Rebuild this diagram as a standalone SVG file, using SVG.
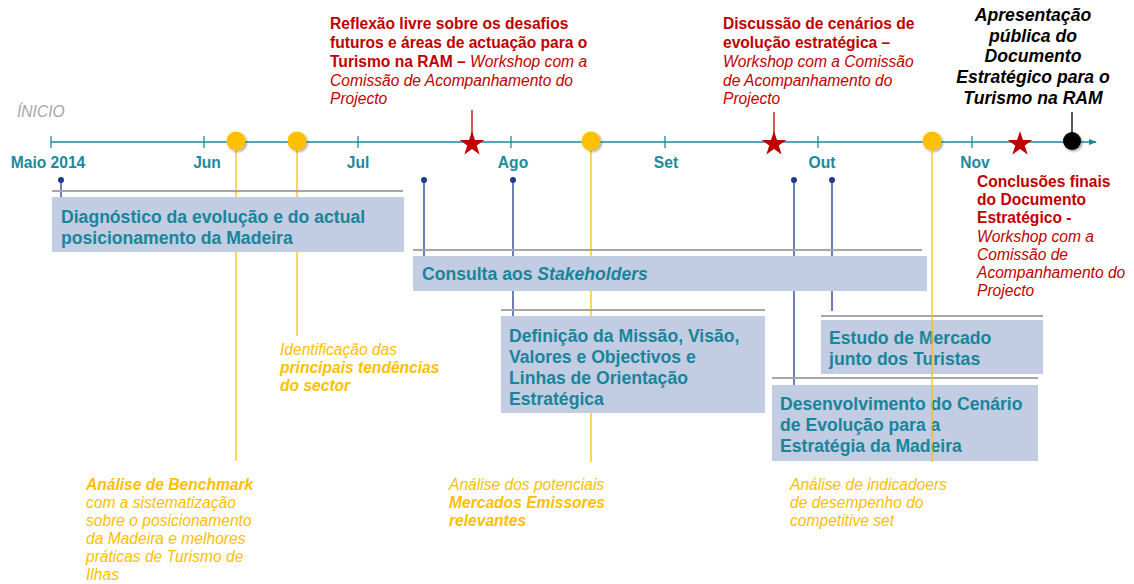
<svg xmlns="http://www.w3.org/2000/svg" width="1134" height="584" viewBox="0 0 1134 584">
<defs>
<style>
text{font-family:"Liberation Sans",Arial,sans-serif;}
.month{font-size:15.6px;font-weight:bold;fill:#1A8A9C;text-anchor:middle;}
.box{fill:#C2CCE3;}
.bar{stroke:#A6A6A6;stroke-width:2;}
.bt{font-size:17.6px;font-weight:bold;fill:#17859A;}
.blue{stroke:#1F3A8F;stroke-width:1.3;}
.bdot{fill:#1F3A8F;}
.yl{stroke:#FFC000;stroke-width:1.3;}
.yt{font-size:15.6px;font-style:italic;fill:#FFC000;}
.b{font-weight:bold;}
.rt{font-size:15.6px;fill:#C00000;}
.i{font-style:italic;font-weight:normal;}
.rl{stroke:#C00000;stroke-width:1.3;}
</style>
<filter id="sh" x="-50%" y="-50%" width="200%" height="200%">
<feDropShadow dx="1.5" dy="1.5" stdDeviation="1.2" flood-color="#000" flood-opacity="0.35"/>
</filter>
<marker id="arr" markerWidth="8" markerHeight="8" refX="7" refY="4" orient="auto" markerUnits="userSpaceOnUse">
<path d="M0,1 L8,4 L0,7 Z" fill="#1A8A9C"/>
</marker>
<polygon id="star" points="0,-13 3,-4 12.4,-4 4.8,1.6 7.6,10.5 0,5 -7.6,10.5 -4.8,1.6 -12.4,-4 -3,-4" fill="#C00000"/>
</defs>

<text x="17" y="117" font-size="15.6" font-style="italic" fill="#A6A6A6">ÍNICIO</text>

<g id="connectors">
<line class="yl" x1="236" y1="141" x2="236" y2="461"/>
<line class="yl" x1="297" y1="141" x2="297" y2="336"/>
<line class="yl" x1="591" y1="141" x2="591" y2="462"/>
<line class="blue" x1="61" y1="180" x2="61" y2="197"/>
<line class="blue" x1="424" y1="180" x2="424" y2="256"/>
<line class="blue" x1="513" y1="180" x2="513" y2="316"/>
<line class="blue" x1="794" y1="180" x2="794" y2="385"/>
<line class="blue" x1="832" y1="180" x2="832" y2="311"/>
<line class="rl" x1="472" y1="110" x2="472" y2="135"/>
<line class="rl" x1="774" y1="112" x2="774" y2="135"/>
<line stroke="#000" stroke-width="1.3" x1="1072" y1="112" x2="1072" y2="135"/>
</g>

<g id="axis">
<line x1="51" y1="142" x2="1096" y2="142" stroke="#1A8A9C" stroke-width="1.5" marker-end="url(#arr)"/>
<g stroke="#1A8A9C" stroke-width="1.3">
<line x1="51" y1="136" x2="51" y2="148"/>
<line x1="204" y1="136" x2="204" y2="148"/>
<line x1="358" y1="136" x2="358" y2="148"/>
<line x1="511" y1="136" x2="511" y2="148"/>
<line x1="665" y1="136" x2="665" y2="148"/>
<line x1="818" y1="136" x2="818" y2="148"/>
<line x1="972" y1="136" x2="972" y2="148"/>
</g>
<text class="month" x="48" y="168">Maio 2014</text>
<text class="month" x="207" y="168">Jun</text>
<text class="month" x="358" y="168">Jul</text>
<text class="month" x="513" y="168">Ago</text>
<text class="month" x="666" y="168">Set</text>
<text class="month" x="822" y="168">Out</text>
<text class="month" x="975" y="168">Nov</text>
</g>

<g id="milestones">
<circle cx="236" cy="141" r="9.5" fill="#FFC000" filter="url(#sh)"/>
<circle cx="297" cy="141" r="9.5" fill="#FFC000" filter="url(#sh)"/>
<circle cx="591" cy="141" r="9.5" fill="#FFC000" filter="url(#sh)"/>
<circle cx="932" cy="141" r="9.5" fill="#FFC000" filter="url(#sh)"/>
<use href="#star" x="472" y="144"/>
<use href="#star" x="774" y="144"/>
<use href="#star" x="1020" y="144"/>
<circle cx="1072" cy="141" r="9" fill="#000" filter="url(#sh)"/>
<circle class="bdot" cx="61" cy="180" r="3"/>
<circle class="bdot" cx="424" cy="180" r="3"/>
<circle class="bdot" cx="513" cy="180" r="3"/>
<circle class="bdot" cx="794" cy="180" r="3"/>
<circle class="bdot" cx="832" cy="180" r="3"/>
</g>

<g id="diagnostico">
<line class="bar" x1="52" y1="191" x2="403" y2="191"/>
<rect class="box" x="52" y="197" width="352" height="55"/>
<text class="bt" x="61" y="223">Diagnóstico da evolução e do actual</text>
<text class="bt" x="61" y="244">posicionamento da Madeira</text>
</g>

<g id="consulta">
<line class="bar" x1="413" y1="250" x2="922" y2="250"/>
<rect class="box" x="413" y="256" width="514" height="35"/>
<text class="bt" x="422" y="280">Consulta aos <tspan font-style="italic">Stakeholders</tspan></text>
</g>

<g id="definicao">
<line class="bar" x1="501" y1="310" x2="765" y2="310"/>
<rect class="box" x="501" y="316" width="264" height="97"/>
<text class="bt" x="509" y="342">Definição da Missão, Visão,</text>
<text class="bt" x="509" y="363">Valores e Objectivos e</text>
<text class="bt" x="509" y="384">Linhas de Orientação</text>
<text class="bt" x="509" y="405">Estratégica</text>
</g>

<g id="estudo">
<line class="bar" x1="821" y1="316" x2="1043" y2="316"/>
<rect class="box" x="821" y="320" width="222" height="54"/>
<text class="bt" x="829" y="344">Estudo de Mercado</text>
<text class="bt" x="829" y="365">junto dos Turistas</text>
</g>

<g id="desenvolvimento">
<line class="bar" x1="772" y1="378" x2="1038" y2="378"/>
<rect class="box" x="772" y="385" width="266" height="76"/>
<text class="bt" x="780" y="410">Desenvolvimento do Cenário</text>
<text class="bt" x="780" y="431">de Evolução para a</text>
<text class="bt" x="780" y="452">Estratégia da Madeira</text>
</g>

<line class="yl" x1="932" y1="141" x2="932" y2="462"/>

<g id="identificacao">
<text class="yt" x="280" y="355">Identificação das</text>
<text class="yt b" x="280" y="373">principais tendências</text>
<text class="yt b" x="280" y="391">do sector</text>
</g>

<g id="benchmark">
<text class="yt b" x="86" y="490">Análise de Benchmark</text>
<text class="yt" x="86" y="508">com a sistematização</text>
<text class="yt" x="86" y="526">sobre o posicionamento</text>
<text class="yt" x="86" y="544">da Madeira e melhores</text>
<text class="yt" x="86" y="562">práticas de Turismo de</text>
<text class="yt" x="86" y="580">Ilhas</text>
</g>

<g id="mercados">
<text class="yt" x="449" y="490">Análise dos potenciais</text>
<text class="yt b" x="449" y="508">Mercados Emissores</text>
<text class="yt b" x="449" y="526">relevantes</text>
</g>

<g id="indicadores">
<text class="yt" x="790" y="490">Análise de indicadoers</text>
<text class="yt" x="790" y="508">de desempenho do</text>
<text class="yt" x="790" y="526">competitive set</text>
</g>

<g id="reflexao">
<text class="rt b" x="330" y="29">Reflexão livre sobre os desafios</text>
<text class="rt b" x="330" y="48">futuros e áreas de actuação para o</text>
<text class="rt b" x="330" y="67">Turismo na RAM – <tspan class="i">Workshop com a</tspan></text>
<text class="rt i" x="330" y="86">Comissão de Acompanhamento do</text>
<text class="rt i" x="330" y="104">Projecto</text>
</g>

<g id="discussao">
<text class="rt b" x="723" y="29">Discussão de cenários de</text>
<text class="rt b" x="723" y="48">evolução estratégica –</text>
<text class="rt i" x="723" y="67">Workshop com a Comissão</text>
<text class="rt i" x="723" y="86">de Acompanhamento do</text>
<text class="rt i" x="723" y="104">Projecto</text>
</g>

<g id="apresentacao" font-size="17.6" font-weight="bold" font-style="italic" text-anchor="middle" fill="#000">
<text x="1033" y="21">Apresentação</text>
<text x="1033" y="42">pública do</text>
<text x="1033" y="62">Documento</text>
<text x="1033" y="83">Estratégico para o</text>
<text x="1033" y="104">Turismo na RAM</text>
</g>

<g id="conclusoes">
<text class="rt b" x="977" y="187">Conclusões finais</text>
<text class="rt b" x="977" y="205">do Documento</text>
<text class="rt b" x="977" y="223">Estratégico -</text>
<text class="rt i" x="977" y="242">Workshop com a</text>
<text class="rt i" x="977" y="260">Comissão de</text>
<text class="rt i" x="977" y="278">Acompanhamento do</text>
<text class="rt i" x="977" y="296">Projecto</text>
</g>
</svg>
